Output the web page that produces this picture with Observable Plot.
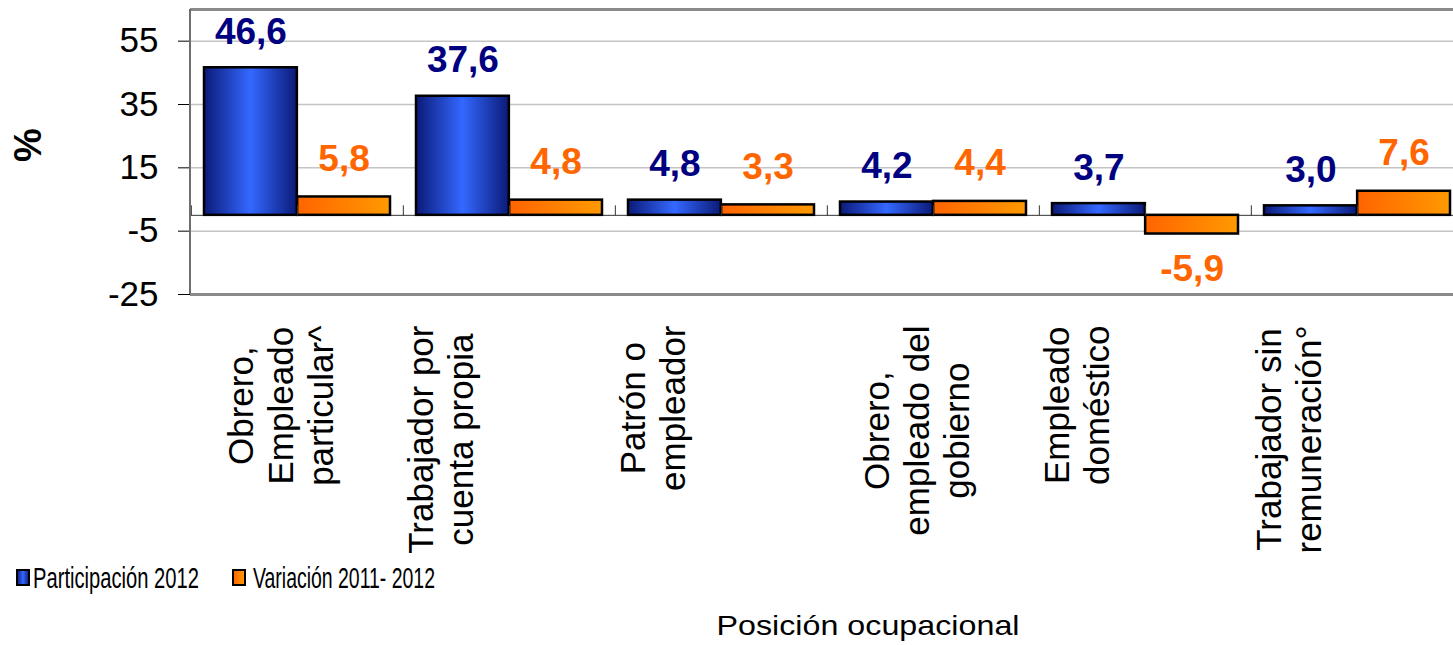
<!DOCTYPE html>
<html><head><meta charset="utf-8">
<script src="https://cdn.jsdelivr.net/npm/d3@7"></script>
<script src="https://cdn.jsdelivr.net/npm/@observablehq/plot@0.6"></script>
<style>
html,body{margin:0;padding:0;background:#fff;overflow:hidden;}
#chart svg{display:block;}
</style></head><body><div id="chart"></div>
<script>
// ---------- data ----------
const categories = ["Obrero,\nEmpleado\nparticular^", "Trabajador por\ncuenta propia", "Patrón o\nempleador", "Obrero,\nempleado del\ngobierno", "Empleado\ndoméstico", "Trabajador sin\nremuneración°"];
const participacion = [46.6, 37.6, 4.8, 4.2, 3.7, 3.0];
const variacion = [5.8, 4.8, 3.3, 4.4, -5.9, 7.6];
const seriesNames = ["Participación 2012", "Variación 2011- 2012"];
const yTicks = [55, 35, 15, -5, -25];
const yDomain = [-25, 65];
const yLabel = "%";
const xTitle = "Posición ocupacional";

// ---------- layout ----------
const W = 1453, H = 560;
const FONT = "'Liberation Sans', Arial, Helvetica, sans-serif";
const mTop = 9, mBottom = 266, mLeft = 190;
const xRange = [mLeft, 1464];
const padIn = 0.1226, padOut = 0.0613;
const band = d3.scaleBand(categories, xRange).paddingInner(padIn).paddingOuter(padOut);
const bw = band.bandwidth(), step = band.step();

const blueData = categories.map((c, i) => ({cat: c, v: participacion[i]}));
const orangeData = categories.map((c, i) => ({cat: c, v: variacion[i]}));
const fmt = v => v.toFixed(1).replace(".", ",");

const ctx = document.createElement("canvas").getContext("2d");
const LBL = 35;
ctx.font = `${LBL}px 'Liberation Sans', Arial, sans-serif`;
const maxLen = c => d3.max(c.split("\n"), s => ctx.measureText(s).width);
const nLines = c => c.split("\n").length;

function addGradients(defs, suffix) {
  const gb = defs.append("linearGradient").attr("id", "gBlue" + suffix)
    .attr("x1", "0").attr("x2", "1").attr("y1", "0").attr("y2", "0");
  gb.append("stop").attr("offset", "0%").attr("stop-color", "#0b1a78");
  gb.append("stop").attr("offset", "50%").attr("stop-color", "#3468ff");
  gb.append("stop").attr("offset", "100%").attr("stop-color", "#0b1a78");
  const go = defs.append("linearGradient").attr("id", "gOrange" + suffix)
    .attr("x1", "0").attr("x2", "1").attr("y1", "0").attr("y2", "0");
  go.append("stop").attr("offset", "0%").attr("stop-color", "#ff6400");
  go.append("stop").attr("offset", "100%").attr("stop-color", "#ff9a00");
}

const extras = (index, scales, values, dims) => {
  const g = d3.create("svg:g");
  addGradients(g.append("defs"), "");
  g.append("line")
    .attr("x1", dims.marginLeft).attr("x2", dims.marginLeft)
    .attr("y1", dims.marginTop).attr("y2", dims.height - dims.marginBottom)
    .attr("stroke", "#6e6e6e").attr("stroke-width", 2);
  return g.node();
};

const tickSymbol = {draw(context) { context.moveTo(0, 0); context.lineTo(0, -10); }};

const labelMarks = categories.map(c => Plot.text([c], {
  x: d => d, frameAnchor: "bottom", rotate: -90, textAnchor: "middle", lineAnchor: "middle",
  lineHeight: 1.14, fontSize: LBL, fill: "#000",
  dx: nLines(c) > 2 ? -17 : -69, dy: 31 + maxLen(c) / 2
}));

const chart = Plot.plot({
  width: W, height: H,
  marginTop: mTop, marginBottom: mBottom, marginLeft: mLeft, marginRight: 0,
  style: {fontFamily: FONT, background: "#fff", overflow: "visible", color: "#000"},
  x: {domain: categories, range: xRange, paddingInner: padIn, paddingOuter: padOut, axis: null},
  y: {domain: yDomain, axis: null},
  marks: [
    Plot.ruleY(yTicks.slice(0, -1), {stroke: "#c4c4c4", strokeWidth: 1.5}),
    Plot.ruleY([0], {stroke: "#333", strokeWidth: 1}),
    Plot.barY(blueData, {x: "cat", y: "v", fill: "url(#gBlue)", stroke: "#000", strokeWidth: 2.5, insetRight: bw / 2}),
    Plot.barY(orangeData, {x: "cat", y: "v", fill: "url(#gOrange)", stroke: "#000", strokeWidth: 2.5, insetLeft: bw / 2}),
    Plot.dot(categories, {x: d => d, y: () => 0, symbol: tickSymbol, stroke: "#333", strokeWidth: 1, r: 3}),
    Plot.dot(categories, {x: d => d, y: () => 0, symbol: tickSymbol, stroke: "#333", strokeWidth: 1, r: 3, dx: -step / 2}),
    Plot.ruleY([yDomain[0]], {stroke: "#8a8a8a", strokeWidth: 3}),
    Plot.ruleY([yDomain[1]], {stroke: "#8a8a8a", strokeWidth: 3}),
    Plot.axisY({ticks: yTicks, tickSize: 12, tickPadding: 20, fontSize: 35, tickFormat: d => String(d), label: null, stroke: "#000"}),
    Plot.text(blueData.filter(d => d.v >= 0), {x: "cat", y: "v", text: d => fmt(d.v), dx: -bw / 4, dy: -24, lineAnchor: "bottom", fill: "#000080", fontWeight: "bold", fontSize: 37}),
    Plot.text(orangeData.filter(d => d.v >= 0), {x: "cat", y: "v", text: d => fmt(d.v), dx: bw / 4, dy: -26, lineAnchor: "bottom", fill: "#ff6600", fontWeight: "bold", fontSize: 37}),
    Plot.text(orangeData.filter(d => d.v < 0), {x: "cat", y: "v", text: d => fmt(d.v), dx: bw / 4, dy: 21, lineAnchor: "top", fill: "#ff6600", fontWeight: "bold", fontSize: 37}),
    Plot.text([yLabel], {frameAnchor: "left", rotate: -90, dx: -162, dy: 10, fontSize: 38, fontWeight: "bold", fill: "#000"}),
    ...labelMarks,
    extras
  ]
});
document.getElementById("chart").appendChild(chart);

// ---------- legend + axis title (below the plot) ----------
const leg = d3.create("svg").attr("width", W).attr("height", 85)
  .style("display", "block").style("font-family", FONT);
addGradients(leg.append("defs"), "L");
const items = [
  {name: seriesNames[0], fill: "url(#gBlueL)", sx: 17, tx: 33, tl: 166},
  {name: seriesNames[1], fill: "url(#gOrangeL)", sx: 233, tx: 253, tl: 182}
];
for (const it of items) {
  leg.append("rect").attr("x", it.sx).attr("y", 10).attr("width", 12).attr("height", 15)
    .attr("fill", it.fill).attr("stroke", "#000").attr("stroke-width", 2);
  leg.append("text").attr("x", it.tx).attr("y", 28).attr("font-size", 29)
    .attr("textLength", it.tl).attr("lengthAdjust", "spacingAndGlyphs")
    .attr("fill", "#000").text(it.name);
}
leg.append("text").attr("x", 868).attr("y", 75).attr("font-size", 28)
  .attr("text-anchor", "middle").attr("textLength", 303).attr("lengthAdjust", "spacingAndGlyphs")
  .attr("fill", "#000").text(xTitle);
document.getElementById("chart").appendChild(leg.node());
</script></body></html>
